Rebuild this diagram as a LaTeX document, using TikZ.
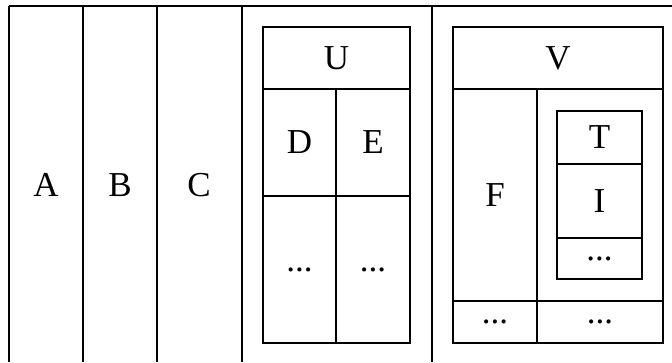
\documentclass[tikz,border=0pt]{standalone}
\usepackage{fontspec}
\setmainfont{Liberation Serif}
\begin{document}
\begin{tikzpicture}[x=1pt,y=-1pt,
  line width=1.4pt,
  cell/.style={draw, rectangle, inner sep=0pt, outer sep=0pt, line width=1.4pt},
  lbl/.style={inner sep=0pt, font=\fontsize{35}{40}\selectfont}]
\useasboundingbox (0,0) rectangle (672,362);
% outer open table
\coordinate (tl) at (9,6);
\coordinate (tr) at (672,6);
\draw (tl) -- (tr);
\foreach \x/\n in {9/a,83/b,157/c,242/d,432/e}{
  \coordinate (top\n) at (\x,6);
  \coordinate (bot\n) at (\x,362);
  \draw (top\n) -- (bot\n);
}
\node[lbl] (A) at (46,185) {A};
\node[lbl] (B) at (120,185) {B};
\node[lbl] (C) at (199,185) {C};
% U table
\node[cell, minimum width=147pt, minimum height=62pt] (U) at (336.5,58) {\fontsize{35}{40}\selectfont U};
\node[cell, minimum width=73pt, minimum height=107pt] (D) at (299.5,142.5) {\fontsize{35}{40}\selectfont D};
\node[cell, minimum width=74pt, minimum height=107pt] (E) at (373,142.5) {\fontsize{35}{40}\selectfont E};
\node[cell, minimum width=73pt, minimum height=147pt] (D2) at (299.5,269.5) {\fontsize{35}{40}\selectfont ...};
\node[cell, minimum width=74pt, minimum height=147pt] (E2) at (373,269.5) {\fontsize{35}{40}\selectfont ...};
% V table
\node[cell, minimum width=210pt, minimum height=62pt] (V) at (558,58) {\fontsize{35}{40}\selectfont V};
\node[cell, minimum width=84pt, minimum height=212pt] (F) at (495,195) {\fontsize{35}{40}\selectfont F};
\node[cell, minimum width=126pt, minimum height=212pt] (G) at (600,195) {};
\node[cell, minimum width=84pt, minimum height=42pt] (F2) at (495,322) {\fontsize{35}{40}\selectfont ...};
\node[cell, minimum width=126pt, minimum height=42pt] (G2) at (600,322) {\fontsize{35}{40}\selectfont ...};
% inner table
\node[cell, minimum width=85pt, minimum height=53pt] (T) at (599.5,137.5) {\fontsize{35}{40}\selectfont T};
\node[cell, minimum width=85pt, minimum height=74pt] (I) at (599.5,201) {\fontsize{35}{40}\selectfont I};
\node[cell, minimum width=85pt, minimum height=41pt] (I2) at (599.5,258.5) {\fontsize{35}{40}\selectfont ...};
\end{tikzpicture}
\end{document}
